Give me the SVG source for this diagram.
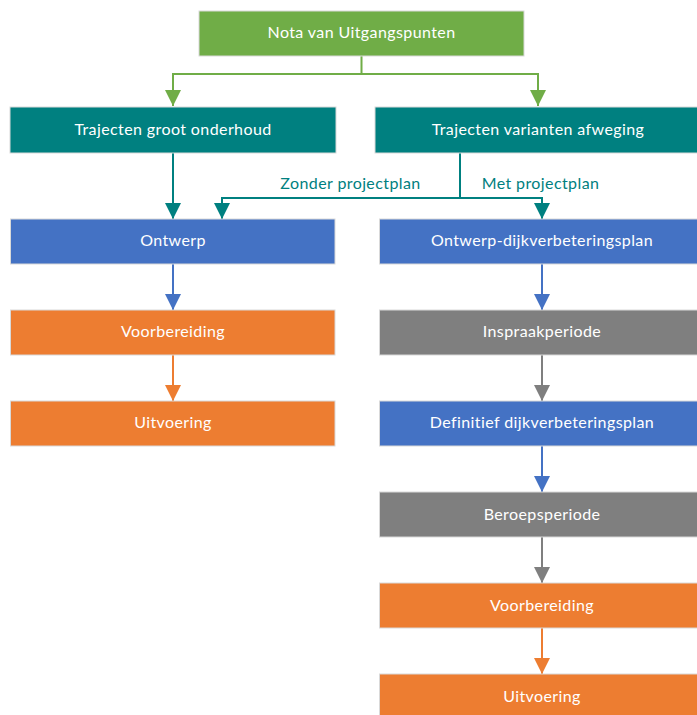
<svg xmlns="http://www.w3.org/2000/svg" width="697" height="715" viewBox="0 0 697 715">
<defs>
<style>
.box{stroke:#d9d9d9;stroke-width:1}
.t{font-family:Lato,"Open Sans","Liberation Sans",sans-serif;font-size:16px;letter-spacing:0.4px;fill:#fff;text-anchor:middle;dominant-baseline:central}
.lbl{font-family:Lato,"Open Sans","Liberation Sans",sans-serif;font-size:16px;letter-spacing:0.4px;fill:#008080;text-anchor:middle}
.c{fill:none;stroke-width:2}
</style>
<marker id="ag" markerUnits="userSpaceOnUse" markerWidth="16" markerHeight="16" refX="16" refY="8" orient="auto"><path d="M0,0 L16,8 L0,16 z" fill="#70AD47"/></marker>
<marker id="at" markerUnits="userSpaceOnUse" markerWidth="16" markerHeight="16" refX="16" refY="8" orient="auto"><path d="M0,0 L16,8 L0,16 z" fill="#008080"/></marker>
<marker id="ab" markerUnits="userSpaceOnUse" markerWidth="16" markerHeight="16" refX="16" refY="8" orient="auto"><path d="M0,0 L16,8 L0,16 z" fill="#4472C4"/></marker>
<marker id="ao" markerUnits="userSpaceOnUse" markerWidth="16" markerHeight="16" refX="16" refY="8" orient="auto"><path d="M0,0 L16,8 L0,16 z" fill="#ED7D31"/></marker>
<marker id="ay" markerUnits="userSpaceOnUse" markerWidth="16" markerHeight="16" refX="16" refY="8" orient="auto"><path d="M0,0 L16,8 L0,16 z" fill="#7F7F7F"/></marker>
</defs>
<rect width="697" height="715" fill="#fff"/>
<g id="connectors">
<path class="c" stroke="#70AD47" d="M361.5,56 V74 H173 V106" marker-end="url(#ag)"/>
<path class="c" stroke="#70AD47" d="M361.5,74 H538 V106" marker-end="url(#ag)"/>
<path class="c" stroke="#008080" d="M173,152 V219" marker-end="url(#at)"/>
<path class="c" stroke="#008080" d="M460,152 V198 H222 V219" marker-end="url(#at)"/>
<path class="c" stroke="#008080" d="M460,198 H542 V219" marker-end="url(#at)"/>
<path class="c" stroke="#4472C4" d="M173,264 V310" marker-end="url(#ab)"/>
<path class="c" stroke="#ED7D31" d="M173,355 V401" marker-end="url(#ao)"/>
<path class="c" stroke="#4472C4" d="M542,264 V310" marker-end="url(#ab)"/>
<path class="c" stroke="#7F7F7F" d="M542,355 V401" marker-end="url(#ay)"/>
<path class="c" stroke="#4472C4" d="M542,446 V492" marker-end="url(#ab)"/>
<path class="c" stroke="#7F7F7F" d="M542,537 V583" marker-end="url(#ay)"/>
<path class="c" stroke="#ED7D31" d="M542,628 V674" marker-end="url(#ao)"/>
<text class="lbl" x="350.5" y="189">Zonder projectplan</text>
<text class="lbl" x="540.5" y="189">Met projectplan</text>
</g>
<g id="n-nota"><rect class="box" x="199" y="11" width="325" height="45" fill="#70AD47"/><text class="t" x="361.5" y="31.5">Nota van Uitgangspunten</text></g>
<g id="n-groot"><rect class="box" x="10" y="107" width="326" height="46" fill="#008080"/><text class="t" x="173" y="128">Trajecten groot onderhoud</text></g>
<g id="n-varianten"><rect class="box" x="375" y="107" width="326" height="46" fill="#008080"/><text class="t" x="538" y="128">Trajecten varianten afweging</text></g>
<g id="n-ontwerp"><rect class="box" x="10.5" y="219" width="324.5" height="45" fill="#4472C4"/><text class="t" x="173" y="239.5">Ontwerp</text></g>
<g id="n-voorb-l"><rect class="box" x="10.5" y="310" width="324.5" height="45" fill="#ED7D31"/><text class="t" x="173" y="330.5">Voorbereiding</text></g>
<g id="n-uitv-l"><rect class="box" x="10.5" y="401" width="324.5" height="45" fill="#ED7D31"/><text class="t" x="173" y="421.5">Uitvoering</text></g>
<g id="n-ontwerp-dijk"><rect class="box" x="379.5" y="219" width="325" height="45" fill="#4472C4"/><text class="t" x="542" y="239.5">Ontwerp-dijkverbeteringsplan</text></g>
<g id="n-inspraak"><rect class="box" x="379.5" y="310" width="325" height="45" fill="#7F7F7F"/><text class="t" x="542" y="330.5">Inspraakperiode</text></g>
<g id="n-definitief"><rect class="box" x="379.5" y="401" width="325" height="45" fill="#4472C4"/><text class="t" x="542" y="421.5">Definitief dijkverbeteringsplan</text></g>
<g id="n-beroeps"><rect class="box" x="379.5" y="492" width="325" height="45" fill="#7F7F7F"/><text class="t" x="542" y="513">Beroepsperiode</text></g>
<g id="n-voorb-r"><rect class="box" x="379.5" y="583" width="325" height="45" fill="#ED7D31"/><text class="t" x="542" y="604">Voorbereiding</text></g>
<g id="n-uitv-r"><rect class="box" x="379.5" y="674" width="325" height="45" fill="#ED7D31"/><text class="t" x="542" y="695.5">Uitvoering</text></g>
</svg>
